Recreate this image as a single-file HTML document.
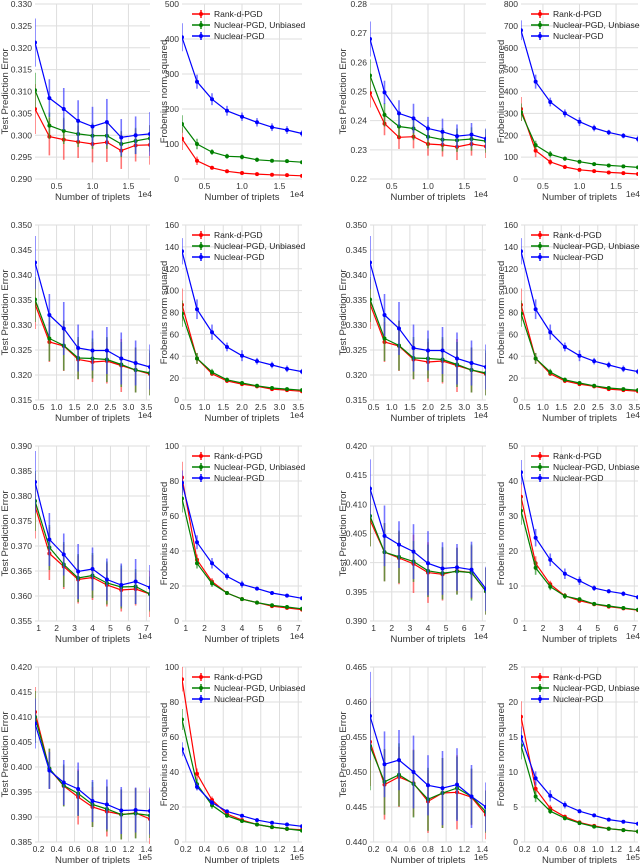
<!DOCTYPE html>
<html>
<head>
<meta charset="utf-8">
<style>
html,body{margin:0;padding:0;background:#fff;}
svg{display:block;font-family:"Liberation Sans","DejaVu Sans",sans-serif;}
</style>
</head>
<body>
<svg id="fig" width="640" height="864" viewBox="0 0 640 864" xmlns="http://www.w3.org/2000/svg"></svg>
<script>
// ---------- data ----------
const xRow1 = [0.2,0.4,0.6,0.8,1.0,1.2,1.4,1.6,1.8];
const xRow2 = [0.4,0.8,1.2,1.6,2.0,2.4,2.8,3.2,3.6];
const xRow3 = [0.8,1.6,2.4,3.2,4.0,4.8,5.6,6.4,7.2];
const xRow4 = [0.16,0.32,0.48,0.64,0.80,0.96,1.12,1.28,1.44];
const seriesNames = ["Rank-d-PGD","Nuclear-PGD, Unbiased","Nuclear-PGD"];

// row 1
const r1c1Red   = [.306,.2997,.299,.2985,.298,.2984,.2965,.2977,.2978];
const r1c1Green = [.3103,.3022,.301,.3003,.2999,.2999,.298,.2987,.2993];
const r1c1Blue  = [.3212,.3085,.306,.3033,.302,.303,.2995,.300,.3003];
const r1c1ErrR  = [.0057,.0043,.0046,.0037,.0042,.0045,.0042,.0037,.0045];
const r1c1ErrG  = [.004,.003,.003,.003,.003,.003,.003,.003,.003];
const r1c1ErrB  = [.0055,.0043,.0048,.0047,.0045,.0053,.0042,.0043,.005];
const r1c2Red   = [115,52,32,22,17,14,12,11,9];
const r1c2Green = [157,100,77,65,63,55,52,51,48];
const r1c2Blue  = [405,278,228,195,178,162,148,140,130];
const r1c2ErrR  = [32,12,5,4,3,3,2,2,2];
const r1c2ErrG  = [25,15,8,7,7,6,5,5,5];
const r1c2ErrB  = [40,20,17,14,12,12,11,11,9];
const r1c3Red   = [.2495,.239,.2343,.2345,.232,.2317,.231,.232,.2312];
const r1c3Green = [.2555,.242,.238,.2373,.2345,.2335,.2333,.2337,.233];
const r1c3Blue  = [.268,.2497,.2425,.2408,.2373,.2362,.2347,.2352,.2338];
const r1c3ErrR  = [.005,.004,.004,.004,.004,.004,.0045,.004,.004];
const r1c3ErrG  = [.0055,.004,.004,.004,.004,.004,.004,.004,.004];
const r1c3ErrB  = [.006,.004,.0045,.005,.004,.0045,.004,.004,.0035];
const r1c4Red   = [320,130,78,55,42,36,30,27,23];
const r1c4Green = [305,155,113,93,79,68,62,58,53];
const r1c4Blue  = [680,445,352,300,262,233,213,198,183];
const r1c4ErrR  = [55,30,15,8,6,5,4,4,3];
const r1c4ErrG  = [40,20,15,10,8,7,6,6,5];
const r1c4ErrB  = [45,32,20,18,20,15,12,12,15];

// row 2
const r2c1Red   = [.3342,.3266,.3258,.3231,.3226,.3228,.3219,.3210,.3202];
const r2c1Green = [.3351,.3273,.3259,.3234,.3233,.3231,.3221,.3210,.3204];
const r2c1Blue  = [.3425,.3320,.3293,.3254,.3249,.3249,.3233,.3224,.3216];
const r2c1ErrR  = [.005,.004,.005,.004,.004,.0045,.0053,.0045,.0042];
const r2c1ErrG  = [.0045,.0045,.005,.0042,.004,.0045,.0045,.0045,.0045];
const r2c1ErrB  = [.0053,.0042,.0053,.0047,.004,.0047,.0052,.0045,.0045];
const r2c2Red   = [87,38,24,17.5,14.5,12.5,10,9,8];
const r2c2Green = [79,38,25.5,18.5,15.5,13,11,10,9];
const r2c2Blue  = [136,83,62,48.5,40.5,35.5,32,28.5,26];
const r2c2ErrR  = [15,5,2,2,1.5,1.5,1,1,1];
const r2c2ErrG  = [12,5,3,2,1.5,1.5,1,1,1];
const r2c2ErrB  = [12,9,7,4,5,3,3,3,2.5];

// row 3
const r3c1Red   = [.378,.3685,.3659,.3633,.3637,.3622,.3612,.3614,.3604];
const r3c1Green = [.379,.3697,.3663,.3636,.3641,.3626,.3618,.3619,.3604];
const r3c1Blue  = [.3828,.3713,.3683,.3649,.3654,.3633,.3622,.3629,.3617];
const r3c1ErrR  = [.0065,.0053,.0045,.0048,.0045,.0043,.0043,.0033,.0046];
const r3c1ErrG  = [.006,.0045,.0045,.0048,.0045,.0043,.0043,.0035,.0035];
const r3c1ErrB  = [.0062,.0053,.0042,.0055,.0043,.0042,.0043,.0045,.0045];
const r3c2Red   = [82,35,22.5,16,12.5,10.5,8.5,7.5,6.5];
const r3c2Green = [70,33,21.5,16,12.5,10.5,9,8,7];
const r3c2Blue  = [79,45,33,25.5,21,18.5,16,14.5,13];
const r3c2ErrR  = [9,3,2,1,1,1,1,1,1];
const r3c2ErrG  = [8,3,2,1,1,1,1,1,1];
const r3c2ErrB  = [7,4,3,2,2,1,1,1,1];
const r3c3Red   = [.4073,.4018,.4008,.3998,.3983,.3980,.3986,.3983,.3951];
const r3c3Green = [.408,.4018,.401,.4002,.3986,.3982,.3985,.3983,.3951];
const r3c3Blue  = [.4127,.4046,.4031,.4019,.3999,.399,.3992,.3988,.3955];
const r3c3ErrR  = [.0045,.005,.0045,.005,.0052,.0045,.004,.0045,.004];
const r3c3ErrG  = [.0052,.005,.0045,.0035,.0045,.0045,.004,.0048,.004];
const r3c3ErrB  = [.005,.0052,.004,.0047,.0055,.0045,.004,.0048,.0038];
const r3c4Red   = [35.5,16.5,10.5,7.2,5.8,4.8,4.1,3.6,3.1];
const r3c4Green = [31.5,15.2,9.8,7.1,6.2,4.9,4.3,3.7,3.2];
const r3c4Blue  = [42.5,23.8,17.5,13.5,11.5,9.4,8.5,7.8,6.8];
const r3c4ErrR  = [4,2,1,0.8,0.6,0.5,0.4,0.4,0.3];
const r3c4ErrG  = [4,2,1,0.8,0.6,0.5,0.4,0.4,0.3];
const r3c4ErrB  = [3.5,2.5,1.8,1.5,1.2,0.8,0.6,0.7,0.6];

// row 4
const r4c1Red   = [.411,.3996,.3962,.394,.392,.3911,.3905,.3908,.3896];
const r4c1Green = [.41,.3997,.3963,.3947,.3925,.3916,.3905,.3907,.3903];
const r4c1Blue  = [.4087,.3993,.3969,.3956,.3932,.3925,.3913,.3914,.3912];
const r4c1ErrR  = [.005,.004,.004,.0055,.004,.005,.005,.005,.006];
const r4c1ErrG  = [.0052,.004,.0042,.0045,.0045,.0045,.005,.005,.0045];
const r4c1ErrB  = [.005,.0037,.0045,.0053,.0042,.005,.0047,.0045,.0047];
const r4c2Red   = [93,39,24,16,12.5,10,8.5,7.5,7];
const r4c2Green = [70,33,21,15,12,10,8.5,7.5,6.5];
const r4c2Blue  = [53,31.5,22.5,17.5,15,12.5,11,10,9];
const r4c2ErrR  = [7,3,2,1,1,1,1,1,1];
const r4c2ErrG  = [6,3,2,1,1,1,1,1,1];
const r4c2ErrB  = [4,2,1.5,1,1,1,1,1,1];
const r4c3Red   = [.4543,.4482,.4493,.4484,.4458,.447,.4471,.4464,.4439];
const r4c3Green = [.4537,.4486,.4496,.4483,.4461,.447,.4477,.4465,.4443];
const r4c3Blue  = [.458,.4511,.4517,.45,.4481,.4477,.4482,.4465,.445];
const r4c3ErrR  = [.0063,.005,.0043,.0048,.0045,.005,.0053,.004,.0035];
const r4c3ErrG  = [.0063,.0047,.0045,.0048,.0045,.005,.0045,.004,.003];
const r4c3ErrB  = [.0063,.0047,.0043,.0052,.0043,.0053,.0052,.0045,.0035];
const r4c4Red   = [17.9,7.6,4.8,3.6,2.8,2.3,1.9,1.7,1.5];
const r4c4Green = [13.8,6.5,4.4,3.4,2.7,2.2,1.9,1.7,1.5];
const r4c4Blue  = [15,9.1,6.6,5.3,4.4,3.8,3.2,2.9,2.6];
const r4c4ErrR  = [2.2,1,0.5,0.3,0.2,0.2,0.1,0.1,0.1];
const r4c4ErrG  = [2,0.8,0.4,0.3,0.2,0.2,0.1,0.1,0.1];
const r4c4ErrB  = [1.5,1,0.8,0.5,0.3,0.2,0.2,0.2,0.2];

// tick labels
const xTicksRow1 = [0.5,1.0,1.5];
const xTicksRow2 = [0.5,1.0,1.5,2.0,2.5,3.0,3.5];
const xTicksRow3 = [1,2,3,4,5,6,7];
const xTicksRow4 = [0.2,0.4,0.6,0.8,1.0,1.2,1.4];
const yTicksR1C1 = [.290,.295,.300,.305,.310,.315,.320,.325,.330];
const yTicksR1C2 = [0,100,200,300,400,500];
const yTicksR1C3 = [.22,.23,.24,.25,.26,.27,.28];
const yTicksR1C4 = [0,100,200,300,400,500,600,700,800];
const yTicksR2C1 = [.315,.320,.325,.330,.335,.340,.345,.350];
const yTicksR2C2 = [0,20,40,60,80,100,120,140,160];
const yTicksR3C1 = [.355,.360,.365,.370,.375,.380,.385,.390];
const yTicksR3C2 = [0,20,40,60,80,100];
const yTicksR3C3 = [.390,.395,.400,.405,.410,.415,.420];
const yTicksR3C4 = [0,10,20,30,40,50];
const yTicksR4C1 = [.385,.390,.395,.400,.405,.410,.415,.420];
const yTicksR4C2 = [0,20,40,60,80,100];
const yTicksR4C3 = [.440,.445,.450,.455,.460,.465];
const yTicksR4C4 = [0,5,10,15,20,25];

// ---------- layout ----------
const rowTop = [4,225,446,667];
const plotH = 175;
const colBox = [[35,150],[182,302],[370,486],[521,638]];
const titleX = [8,167,346,504];
const colors = ["#ff0000","#008000","#0000ff"];
const errColors = ["rgba(255,60,60,0.7)","rgba(40,150,40,0.7)","rgba(60,60,255,0.7)"];

const panels = [
 {r:0,c:0,x:xRow1,xt:xTicksRow1,xd:1,exp:"1e4",yt:yTicksR1C1,yd:3,s:[r1c1Red,r1c1Green,r1c1Blue],e:[r1c1ErrR,r1c1ErrG,r1c1ErrB],norm:false},
 {r:0,c:1,x:xRow1,xt:xTicksRow1,xd:1,exp:"1e4",yt:yTicksR1C2,yd:0,s:[r1c2Red,r1c2Green,r1c2Blue],e:[r1c2ErrR,r1c2ErrG,r1c2ErrB],norm:true},
 {r:0,c:2,x:xRow1,xt:xTicksRow1,xd:1,exp:"1e4",yt:yTicksR1C3,yd:2,s:[r1c3Red,r1c3Green,r1c3Blue],e:[r1c3ErrR,r1c3ErrG,r1c3ErrB],norm:false},
 {r:0,c:3,x:xRow1,xt:xTicksRow1,xd:1,exp:"1e4",yt:yTicksR1C4,yd:0,s:[r1c4Red,r1c4Green,r1c4Blue],e:[r1c4ErrR,r1c4ErrG,r1c4ErrB],norm:true},
 {r:1,c:0,x:xRow2,xt:xTicksRow2,xd:1,exp:"1e4",yt:yTicksR2C1,yd:3,s:[r2c1Red,r2c1Green,r2c1Blue],e:[r2c1ErrR,r2c1ErrG,r2c1ErrB],norm:false},
 {r:1,c:1,x:xRow2,xt:xTicksRow2,xd:1,exp:"1e4",yt:yTicksR2C2,yd:0,s:[r2c2Red,r2c2Green,r2c2Blue],e:[r2c2ErrR,r2c2ErrG,r2c2ErrB],norm:true},
 {r:1,c:2,x:xRow2,xt:xTicksRow2,xd:1,exp:"1e4",yt:yTicksR2C1,yd:3,s:[r2c1Red,r2c1Green,r2c1Blue],e:[r2c1ErrR,r2c1ErrG,r2c1ErrB],norm:false},
 {r:1,c:3,x:xRow2,xt:xTicksRow2,xd:1,exp:"1e4",yt:yTicksR2C2,yd:0,s:[r2c2Red,r2c2Green,r2c2Blue],e:[r2c2ErrR,r2c2ErrG,r2c2ErrB],norm:true},
 {r:2,c:0,x:xRow3,xt:xTicksRow3,xd:0,exp:"1e4",yt:yTicksR3C1,yd:3,s:[r3c1Red,r3c1Green,r3c1Blue],e:[r3c1ErrR,r3c1ErrG,r3c1ErrB],norm:false},
 {r:2,c:1,x:xRow3,xt:xTicksRow3,xd:0,exp:"1e4",yt:yTicksR3C2,yd:0,s:[r3c2Red,r3c2Green,r3c2Blue],e:[r3c2ErrR,r3c2ErrG,r3c2ErrB],norm:true},
 {r:2,c:2,x:xRow3,xt:xTicksRow3,xd:0,exp:"1e4",yt:yTicksR3C3,yd:3,s:[r3c3Red,r3c3Green,r3c3Blue],e:[r3c3ErrR,r3c3ErrG,r3c3ErrB],norm:false},
 {r:2,c:3,x:xRow3,xt:xTicksRow3,xd:0,exp:"1e4",yt:yTicksR3C4,yd:0,s:[r3c4Red,r3c4Green,r3c4Blue],e:[r3c4ErrR,r3c4ErrG,r3c4ErrB],norm:true},
 {r:3,c:0,x:xRow4,xt:xTicksRow4,xd:1,exp:"1e5",yt:yTicksR4C1,yd:3,s:[r4c1Red,r4c1Green,r4c1Blue],e:[r4c1ErrR,r4c1ErrG,r4c1ErrB],norm:false},
 {r:3,c:1,x:xRow4,xt:xTicksRow4,xd:1,exp:"1e5",yt:yTicksR4C2,yd:0,s:[r4c2Red,r4c2Green,r4c2Blue],e:[r4c2ErrR,r4c2ErrG,r4c2ErrB],norm:true},
 {r:3,c:2,x:xRow4,xt:xTicksRow4,xd:1,exp:"1e5",yt:yTicksR4C3,yd:3,s:[r4c3Red,r4c3Green,r4c3Blue],e:[r4c3ErrR,r4c3ErrG,r4c3ErrB],norm:false},
 {r:3,c:3,x:xRow4,xt:xTicksRow4,xd:1,exp:"1e5",yt:yTicksR4C4,yd:0,s:[r4c4Red,r4c4Green,r4c4Blue],e:[r4c4ErrR,r4c4ErrG,r4c4ErrB],norm:true}
];

const NS = "http://www.w3.org/2000/svg";
const fig = document.getElementById("fig");
function mk(tag, attrs, parent, text){
  const el = document.createElementNS(NS, tag);
  for (const k in attrs) el.setAttribute(k, attrs[k]);
  if (text !== undefined) el.textContent = text;
  parent.appendChild(el);
  return el;
}

panels.forEach((p, pi) => {
  const L = colBox[p.c][0], R = colBox[p.c][1];
  const T = rowTop[p.r], B = T + plotH;
  const x0 = p.x[0], x1 = p.x[p.x.length-1];
  const y0 = p.yt[0], y1 = p.yt[p.yt.length-1];
  const sx = v => L + (v - x0) / (x1 - x0) * (R - L);
  const sy = v => B - (v - y0) / (y1 - y0) * (B - T);

  const g = mk("g", {}, fig);
  
  

  const clipId = "clip" + pi;
  const cp = mk("clipPath", {id: clipId}, g);
  mk("rect", {x: L, y: T-2, width: R-L, height: plotH+4}, cp);

  // grid
  const grid = mk("g", {stroke: "#dedede", "stroke-width": 1}, g);
  
  
  p.yt.forEach(v => {
    const y = sy(v);
    mk("line", {x1: L, x2: R, y1: y, y2: y}, grid);
    const t = mk("text", {x: L-3, y: y+3, "text-anchor": "end", "font-size": 8.5, fill: "#333"}, g, v.toFixed(p.yd));
    
    
  });
  p.xt.forEach(v => {
    const x = sx(v);
    mk("line", {x1: x, x2: x, y1: T, y2: B}, grid);
    const t = mk("text", {x: x, y: B+10, "text-anchor": "middle", "font-size": 8.5, fill: "#333"}, g, v.toFixed(p.xd));
    
    
  });

  // axis labels
  const xl = mk("text", {x: (L+R)/2, y: B+21, "text-anchor": "middle", "font-size": 9.5, fill: "#333"}, g, "Number of triplets");
  
  
  const ex = mk("text", {x: R+2, y: B+18, "text-anchor": "end", "font-size": 8.5, fill: "#333"}, g, p.exp);
  
  
  const yl = mk("text", {x: 0, y: 0, "text-anchor": "middle", "font-size": 9.5, fill: "#333",
    transform: "translate(" + titleX[p.c] + "," + ((T+B)/2) + ") rotate(-90)"}, g, p.norm ? "Frobenius norm squared" : "Test Prediction Error");
  
  

  // series
  const sg = mk("g", {"clip-path": "url(#" + clipId + ")"}, g);
  [0,1,2].forEach(si => {
    const ys = p.s[si], es = p.e[si];
    const ser = mk("g", {}, sg);
    
    
    ys.forEach((v, i) => {
      const eb = mk("line", {x1: sx(p.x[i]), x2: sx(p.x[i]), y1: sy(v - es[i]), y2: sy(v + es[i]), stroke: errColors[si], "stroke-width": 1.6}, ser);
      
      
    });
    const d = ys.map((v, i) => (i ? "L" : "M") + sx(p.x[i]).toFixed(1) + "," + sy(v).toFixed(1)).join(" ");
    const ln = mk("path", {d: d, fill: "none", stroke: colors[si], "stroke-width": 1.2}, ser);
    
    
    ys.forEach((v, i) => {
      const pt = mk("circle", {cx: sx(p.x[i]), cy: sy(v), r: 2, fill: colors[si]}, ser);
      
      
    });
  });

  // legend
  if (p.norm) {
    const lg = mk("g", {}, g);
    
    
    seriesNames.forEach((nm, si) => {
      const ly = T + 10 + si * 11;
      const le = mk("g", {}, lg);
      
      
      mk("line", {x1: L+10, x2: L+28, y1: ly, y2: ly, stroke: colors[si], "stroke-width": 1.4}, le);
      mk("line", {x1: L+19, x2: L+19, y1: ly-4, y2: ly+4, stroke: colors[si], "stroke-width": 1.4}, le);
      mk("circle", {cx: L+19, cy: ly, r: 2, fill: colors[si]}, le);
      mk("text", {x: L+32, y: ly+3, "font-size": 8.5, fill: "#222"}, le, nm);
    });
  }
});
</script>
</body>
</html>
